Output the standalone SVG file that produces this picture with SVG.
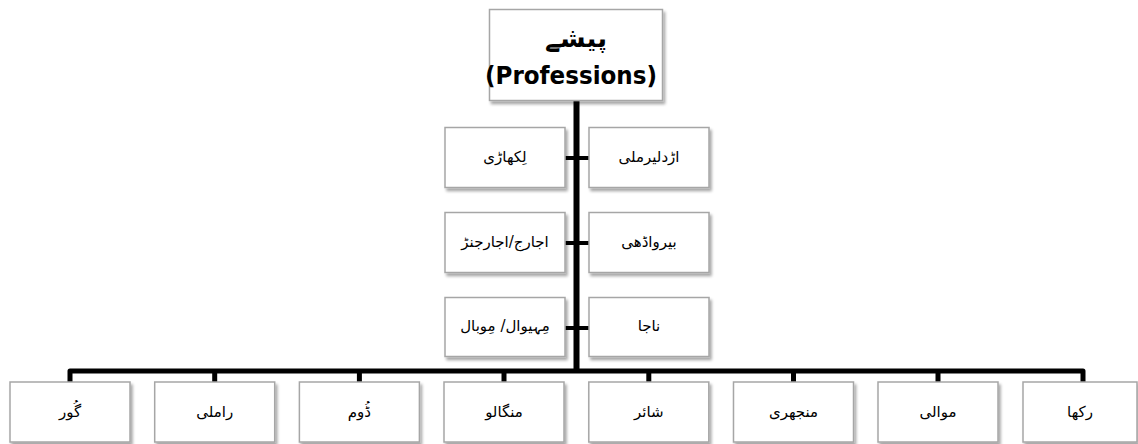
<svg xmlns="http://www.w3.org/2000/svg" width="1138" height="444" viewBox="0 0 1138 444">
  <style>
    .box { fill: #ffffff; stroke: #a6a6a6; stroke-width: 1.5; filter: url(#shadow); }
    .lbl { font-family: "DejaVu Sans", sans-serif; font-size: 15px; fill: #000; text-anchor: middle; dominant-baseline: central; }
    .trunk { stroke: #000; stroke-width: 6; fill: none; }
    .branch { stroke: #000; stroke-width: 4; fill: none; }
    .bus { stroke: #000; stroke-width: 5; fill: none; stroke-linejoin: round; }
  </style>
  <defs>
    <filter id="shadow" x="-10%" y="-10%" width="125%" height="130%">
      <feGaussianBlur in="SourceAlpha" stdDeviation="1.5"/>
      <feOffset dx="2" dy="3" result="blur"/>
      <feComponentTransfer><feFuncA type="linear" slope="0.35"/></feComponentTransfer>
      <feMerge><feMergeNode/><feMergeNode in="SourceGraphic"/></feMerge>
    </filter>
  </defs>
  <rect width="1138" height="444" fill="#ffffff"/>

  <g id="connectors">
    <line class="trunk" x1="576.5" y1="100" x2="576.5" y2="372"/>
    <line class="branch" x1="565" y1="158" x2="589" y2="158"/>
    <line class="branch" x1="565" y1="243" x2="589" y2="243"/>
    <line class="branch" x1="565" y1="328" x2="589" y2="328"/>
    <path class="bus" d="M70 382 V371 H1083 V382"/>
    <line class="bus" x1="214.7" y1="371" x2="214.7" y2="382"/>
    <line class="bus" x1="359.4" y1="371" x2="359.4" y2="382"/>
    <line class="bus" x1="504" y1="371" x2="504" y2="382"/>
    <line class="bus" x1="648.8" y1="371" x2="648.8" y2="382"/>
    <line class="bus" x1="793.5" y1="371" x2="793.5" y2="382"/>
    <line class="bus" x1="938" y1="371" x2="938" y2="382"/>
  </g>

  <g id="root">
    <rect class="box" x="489.5" y="9.5" width="173" height="91"/>
    <text x="576" y="38" font-family="DejaVu Sans, sans-serif" font-size="26" font-weight="bold" text-anchor="middle" dominant-baseline="central">پیشے</text>
    <text x="571" y="84" font-family="DejaVu Sans, sans-serif" font-size="25" font-weight="bold" text-anchor="middle" textLength="172" lengthAdjust="spacingAndGlyphs">(Professions)</text>
  </g>

  <g id="r1-left"><rect class="box" x="445" y="127.5" width="120" height="60"/><text class="lbl" x="505" y="157">لِکھاڑی</text></g>
  <g id="r1-right"><rect class="box" x="589" y="127.5" width="120" height="60"/><text class="lbl" x="649" y="157">اڑدلیرملی</text></g>
  <g id="r2-left"><rect class="box" x="445" y="212.5" width="120" height="60"/><text class="lbl" x="505" y="242">اجارج/اجارجنڑ</text></g>
  <g id="r2-right"><rect class="box" x="589" y="212.5" width="120" height="60"/><text class="lbl" x="649" y="242">بیرواڈھی</text></g>
  <g id="r3-left"><rect class="box" x="445" y="297.5" width="120" height="59"/><text class="lbl" x="505" y="326">مِہیوال/ مِوبال</text></g>
  <g id="r3-right"><rect class="box" x="589" y="297.5" width="120" height="59"/><text class="lbl" x="649" y="326">ناجا</text></g>

  <g id="b1"><rect class="box" x="10" y="382" width="120" height="60"/><text class="lbl" x="70" y="412">گُور</text></g>
  <g id="b2"><rect class="box" x="154.7" y="382" width="120" height="60"/><text class="lbl" x="214.7" y="412">راملی</text></g>
  <g id="b3"><rect class="box" x="299.4" y="382" width="120" height="60"/><text class="lbl" x="359.4" y="412">ڈُوم</text></g>
  <g id="b4"><rect class="box" x="444" y="382" width="120" height="60"/><text class="lbl" x="504" y="412">منگالو</text></g>
  <g id="b5"><rect class="box" x="588.8" y="382" width="120" height="60"/><text class="lbl" x="648.8" y="412">شائر</text></g>
  <g id="b6"><rect class="box" x="733.5" y="382" width="120" height="60"/><text class="lbl" x="793.5" y="412">منجھری</text></g>
  <g id="b7"><rect class="box" x="878" y="382" width="120" height="60"/><text class="lbl" x="938" y="412">موالی</text></g>
  <g id="b8"><rect class="box" x="1023" y="382" width="114" height="60"/><text class="lbl" x="1080" y="412">رکھا</text></g>
</svg>
